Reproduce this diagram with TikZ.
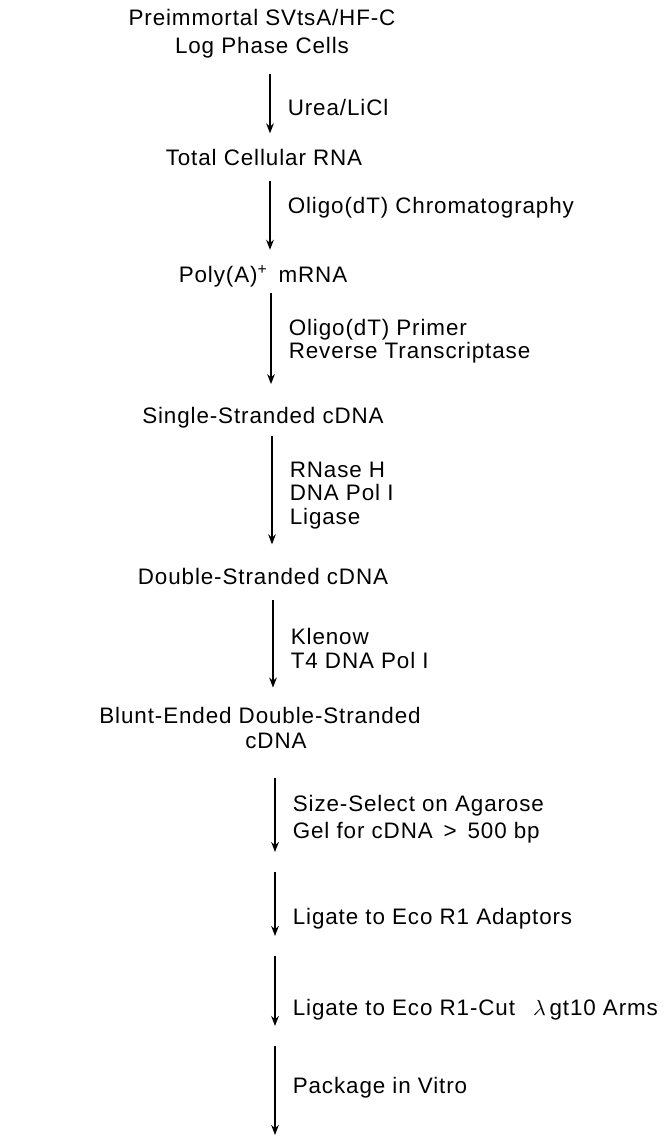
\documentclass[tikz,border=0pt]{standalone}
\usepackage{fontspec}
\setmainfont[LetterSpace=4]{Liberation Sans}
\usepackage{tikz}
\usetikzlibrary{arrows.meta, positioning}
\tikzstyle{product} = [inner sep=0pt, align=center]
\tikzstyle{reagent} = [inner sep=0pt, align=left, anchor=west, xshift=8.5pt]
\tikzstyle{flowarrow} = [line width=0.8pt, -{Stealth[length=5pt,width=3.8pt]}, shorten <=7.5pt, shorten >=7.5pt]

\begin{document}
\begin{tikzpicture}[x=0.5pt, y=-0.5pt, font=\fontsize{11.2}{11.8}\selectfont]
\useasboundingbox (0,0) rectangle (671,1136);

\node[product] (cells) at (262,34) {Preimmortal SVtsA/HF-C\\[2pt] Log Phase Cells};
\node[product] (totalrna) at (264,157) {Total Cellular RNA};
\node[product] (polya) at (263,276) {Poly(A)\textsuperscript{+}\ \,mRNA};
\node[product] (sscdna) at (263,418) {Single-Stranded cDNA};
\node[product] (dscdna) at (263,576) {Double-Stranded cDNA};
\node[product] (blunt) at (260,728) {Blunt-Ended Double-Stranded\\[0.5pt] \hspace{16pt}cDNA};

\coordinate (sized) at (275,862);
\coordinate (adapted) at (275,946);
\coordinate (ligated) at (275,1036);
\coordinate (packaged) at (275,1135);

\draw[flowarrow] ([xshift=4pt]cells.south) -- ([xshift=4pt]cells.south |- totalrna.north)
  node[reagent, pos=0.54] {Urea/LiCl};
\draw[flowarrow] ([xshift=4pt]cells.south |- totalrna.south) -- ([xshift=4pt]cells.south |- polya.north)
  node[reagent, pos=0.42] {Oligo(dT) Chromatography};
\draw[flowarrow, shorten <=3pt, shorten >=11.5pt] ([xshift=4pt]polya.south) -- ([xshift=4pt]polya.south |- sscdna.north)
  node[reagent, pos=0.45] {Oligo(dT) Primer\\ Reverse Transcriptase};
\draw[flowarrow, shorten <=3.5pt, shorten >=11.5pt] ([xshift=4.5pt]sscdna.south) -- ([xshift=4.5pt]sscdna.south |- dscdna.north)
  node[reagent, pos=0.48] {RNase H\\ DNA Pol I\\ Ligase};
\draw[flowarrow, shorten >=9.75pt] ([xshift=5pt]dscdna.south) -- ([xshift=5pt]dscdna.south |- blunt.north)
  node[reagent, pos=0.52] {Klenow\\ T4 DNA Pol I};
\draw[flowarrow, shorten <=14.5pt, shorten >=5pt] (sized |- blunt.south) -- (sized)
  node[reagent, pos=0.62] {Size-Select on Agarose\\[2pt] Gel for cDNA \,>\, 500 bp};
\draw[flowarrow, shorten <=5pt, shorten >=5pt] (sized) -- (adapted)
  node[reagent, pos=0.67] {Ligate to Eco R1 Adaptors};
\draw[flowarrow, shorten <=5pt, shorten >=5pt] (adapted) -- (ligated)
  node[reagent, pos=0.71] {Ligate to Eco R1-Cut\ \ \,$\lambda$\,gt10 Arms};
\draw[flowarrow, shorten <=5pt, shorten >=0pt] (ligated) -- (packaged)
  node[reagent, pos=0.52] {Package in Vitro};
\end{tikzpicture}
\end{document}
